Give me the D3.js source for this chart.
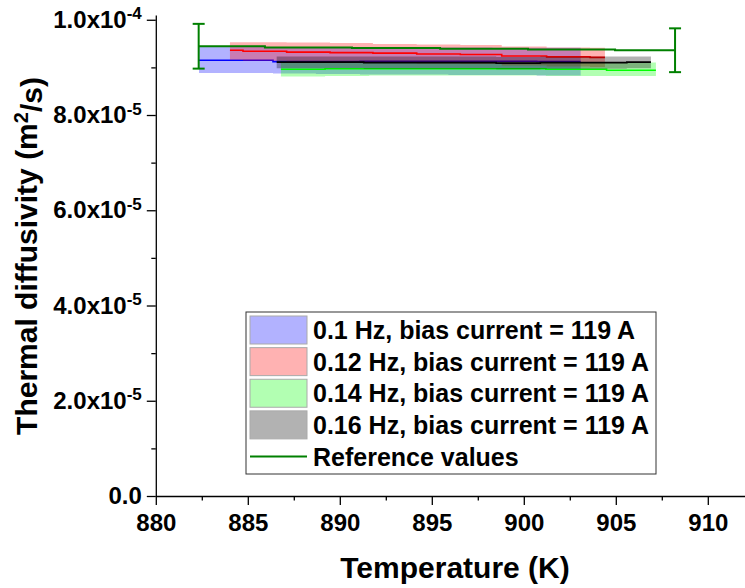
<!DOCTYPE html>
<html>
<head>
<meta charset="utf-8">
<script src="https://cdn.jsdelivr.net/npm/d3@7"></script>
<style>
  body { margin: 0; background: #fff; }
  text { font-family: "Liberation Sans", Arial, sans-serif; font-weight: bold; fill: #000; }
</style>
</head>
<body>
<div id="root"></div>
<script>
// step data: T has one more entry than the values (end of the last step)

// 0.1 Hz
const blueT    = [882.35, 886.37, 888.7, 891.1, 893.5, 895.9, 898.3, 900.7, 903.09];
const blueMean = [9.15e-5, 9.12e-5, 9.12e-5, 9.13e-5, 9.13e-5, 9.13e-5, 9.13e-5, 9.12e-5];
const blueLow  = [8.88e-5, 8.87e-5, 8.86e-5, 8.85e-5, 8.85e-5, 8.84e-5, 8.84e-5, 8.83e-5];
const blueHigh = [9.43e-5, 9.43e-5, 9.42e-5, 9.42e-5, 9.42e-5, 9.42e-5, 9.41e-5, 9.41e-5];

// 0.12 Hz
const redT    = [884.03, 884.74, 887.11, 889.47, 891.8, 894.18, 896.55, 898.8, 901.24, 903.6, 904.41];
const redMean = [9.36e-5, 9.34e-5, 9.32e-5, 9.31e-5, 9.30e-5, 9.28e-5, 9.27e-5, 9.24e-5, 9.22e-5, 9.21e-5];
const redLow  = [9.16e-5, 9.14e-5, 9.12e-5, 9.11e-5, 9.10e-5, 9.08e-5, 9.07e-5, 9.04e-5, 9.02e-5, 9.01e-5];
const redHigh = [9.53e-5, 9.53e-5, 9.52e-5, 9.51e-5, 9.49e-5, 9.48e-5, 9.47e-5, 9.44e-5, 9.42e-5, 9.41e-5];

// 0.14 Hz
const greenT    = [886.8, 889.2, 891.6, 894.0, 896.4, 898.8, 901.2, 904.5, 907.18];
const greenMean = [8.96e-5, 8.97e-5, 8.97e-5, 8.97e-5, 8.97e-5, 8.97e-5, 8.96e-5, 8.94e-5];
const greenLow  = [8.81e-5, 8.82e-5, 8.83e-5, 8.83e-5, 8.83e-5, 8.83e-5, 8.82e-5, 8.82e-5];
const greenHigh = [9.11e-5, 9.11e-5, 9.11e-5, 9.11e-5, 9.11e-5, 9.11e-5, 9.10e-5, 9.10e-5];

// 0.16 Hz
const grayT    = [886.57, 888.9, 891.3, 893.7, 896.1, 898.5, 900.9, 903.3, 905.6, 906.91];
const grayMean = [9.11e-5, 9.11e-5, 9.10e-5, 9.10e-5, 9.10e-5, 9.09e-5, 9.10e-5, 9.10e-5, 9.11e-5];
const grayLow  = [8.98e-5, 8.98e-5, 8.97e-5, 8.97e-5, 8.97e-5, 8.96e-5, 8.97e-5, 8.97e-5, 8.98e-5];
const grayHigh = [9.23e-5, 9.23e-5, 9.23e-5, 9.23e-5, 9.23e-5, 9.22e-5, 9.23e-5, 9.23e-5, 9.23e-5];

// reference values + error bars at both ends
const refT   = [882.33, 885.93, 890.66, 895.45, 900.23, 904.96, 908.22];
const refVal = [9.444e-5, 9.42e-5, 9.405e-5, 9.39e-5, 9.375e-5, 9.36e-5];
const refErrT   = [882.33, 908.22];
const refErrMid = [9.444e-5, 9.36e-5];
const refErr    = [0.47e-5, 0.46e-5];

const xTicks = [880, 885, 890, 895, 900, 905, 910];
const xMinor = [882.5, 887.5, 892.5, 897.5, 902.5, 907.5];
const yTicks = [0, 2e-5, 4e-5, 6e-5, 8e-5, 1e-4];
const yMinor = [1e-5, 3e-5, 5e-5, 7e-5, 9e-5];

const legendLabels = [
    '0.1 Hz, bias current = 119 A',
    '0.12 Hz, bias current = 119 A',
    '0.14 Hz, bias current = 119 A',
    '0.16 Hz, bias current = 119 A',
    'Reference values'
];

const width = 745;
const height = 588;

const svg = d3.select('#root')
    .append('svg')
    .attr('width', width)
    .attr('height', height);

const x = d3.scaleLinear().domain([880, 912]).range([155.8, 744.6]);
const y = d3.scaleLinear().domain([0, 1.01e-4]).range([496, 15]);

const toPts = (T, vals) => T.map((t, i) => ({ t, v: vals[Math.min(i, vals.length - 1)] }));
const bandPts = (T, lo, hi) => T.map((t, i) => ({
    t, lo: lo[Math.min(i, lo.length - 1)], hi: hi[Math.min(i, hi.length - 1)]
}));

const line = d3.line().x(d => x(d.t)).y(d => y(d.v)).curve(d3.curveStepAfter);
const area = d3.area().x(d => x(d.t)).y0(d => y(d.lo)).y1(d => y(d.hi)).curve(d3.curveStepAfter);

const series = [
    { T: blueT, mean: blueMean, lo: blueLow, hi: blueHigh, color: '#0000ff', fill: '#0000ff' },
    { T: redT, mean: redMean, lo: redLow, hi: redHigh, color: '#ff0000', fill: '#ff0000' },
    { T: greenT, mean: greenMean, lo: greenLow, hi: greenHigh, color: '#00ff00', fill: '#00ff00' },
    { T: grayT, mean: grayMean, lo: grayLow, hi: grayHigh, color: '#000000', fill: '#000000' }
];

series.forEach(s => {
    svg.append('path')
        .attr('d', area(bandPts(s.T, s.lo, s.hi)))
        .attr('fill', s.fill)
        .attr('fill-opacity', 0.3);
    svg.append('path')
        .attr('d', line(toPts(s.T, s.mean)))
        .attr('fill', 'none')
        .attr('stroke', s.color)
        .attr('stroke-width', 1.6);
});

// reference line
const refColor = '#008000';
svg.append('path')
    .attr('d', line(toPts(refT, refVal)))
    .attr('fill', 'none')
    .attr('stroke', refColor)
    .attr('stroke-width', 2);

refErrT.forEach((t, i) => {
    const cx = x(t);
    const top = y(refErrMid[i] + refErr[i]);
    const bot = y(refErrMid[i] - refErr[i]);
    svg.append('line').attr('x1', cx).attr('x2', cx).attr('y1', top).attr('y2', bot)
        .attr('stroke', refColor).attr('stroke-width', 2);
    [top, bot].forEach(yy => {
        svg.append('line').attr('x1', cx - 6).attr('x2', cx + 6).attr('y1', yy).attr('y2', yy)
            .attr('stroke', refColor).attr('stroke-width', 2);
    });
});

// Axes
const xAxis = svg.append('g')
    .attr('transform', `translate(0,${y(0)})`)
    .call(d3.axisBottom(x).tickValues(xTicks).tickSize(9).tickSizeOuter(0).tickFormat(d3.format('d')));
svg.append('g')
    .attr('transform', `translate(0,${y(0)})`)
    .call(d3.axisBottom(x).tickValues(xMinor).tickSize(4.5).tickFormat(''))
    .select('.domain').remove();

const yAxis = svg.append('g')
    .attr('transform', `translate(${x(880)},0)`)
    .call(d3.axisLeft(y).tickValues(yTicks).tickSize(9).tickSizeOuter(0));
svg.append('g')
    .attr('transform', `translate(${x(880)},0)`)
    .call(d3.axisLeft(y).tickValues(yMinor).tickSize(4.5).tickFormat(''))
    .select('.domain').remove();

svg.selectAll('.domain, .tick line').attr('stroke', '#000').attr('stroke-width', 1.3);

xAxis.selectAll('.tick text')
    .attr('y', 18)
    .style('font-size', '24px');

yAxis.selectAll('.tick text').each(function (d) {
    const t = d3.select(this).text('').attr('x', -14).style('font-size', '24px');
    if (d === 0) { t.text('0.0'); return; }
    const e = Math.floor(Math.log10(d) + 1e-9);
    const m = d / Math.pow(10, e);
    t.append('tspan').text(m.toFixed(1) + 'x10');
    t.append('tspan').attr('dy', '-0.5em').style('font-size', '17px').text(e);
});

// Axis titles
svg.append('text')
    .attr('text-anchor', 'middle')
    .attr('transform', 'translate(455,578)')
    .style('font-size', '30px')
    .text('Temperature (K)');

const yTitle = svg.append('text')
    .attr('text-anchor', 'middle')
    .attr('transform', 'translate(37,256)rotate(-90)')
    .style('font-size', '30px');
yTitle.append('tspan').text('Thermal diffusivity (m');
yTitle.append('tspan').attr('dy', '-0.45em').style('font-size', '20px').text('2');
yTitle.append('tspan').attr('dy', '0.45em').text('/s)');

// Legend
const legend = svg.append('g');
legend.append('rect')
    .attr('x', 246).attr('y', 312).attr('width', 410).attr('height', 162)
    .attr('fill', '#fff').attr('stroke', '#333').attr('stroke-width', 1);

const rowY = d3.scalePoint().domain(legendLabels).range([330, 456.5]);
legendLabels.forEach((lab, i) => {
    const cy = rowY(lab);
    if (i < series.length) {
        legend.append('rect')
            .attr('x', 250).attr('y', cy - 14).attr('width', 57).attr('height', 28)
            .attr('fill', series[i].fill).attr('fill-opacity', 0.3)
            .attr('stroke', '#aaa').attr('stroke-width', 1);
    } else {
        legend.append('line')
            .attr('x1', 250).attr('x2', 307).attr('y1', cy).attr('y2', cy)
            .attr('stroke', refColor).attr('stroke-width', 2);
    }
    legend.append('text')
        .attr('x', 313).attr('y', cy).attr('dy', '0.36em')
        .style('font-size', '25px')
        .text(lab);
});
</script>
</body>
</html>
